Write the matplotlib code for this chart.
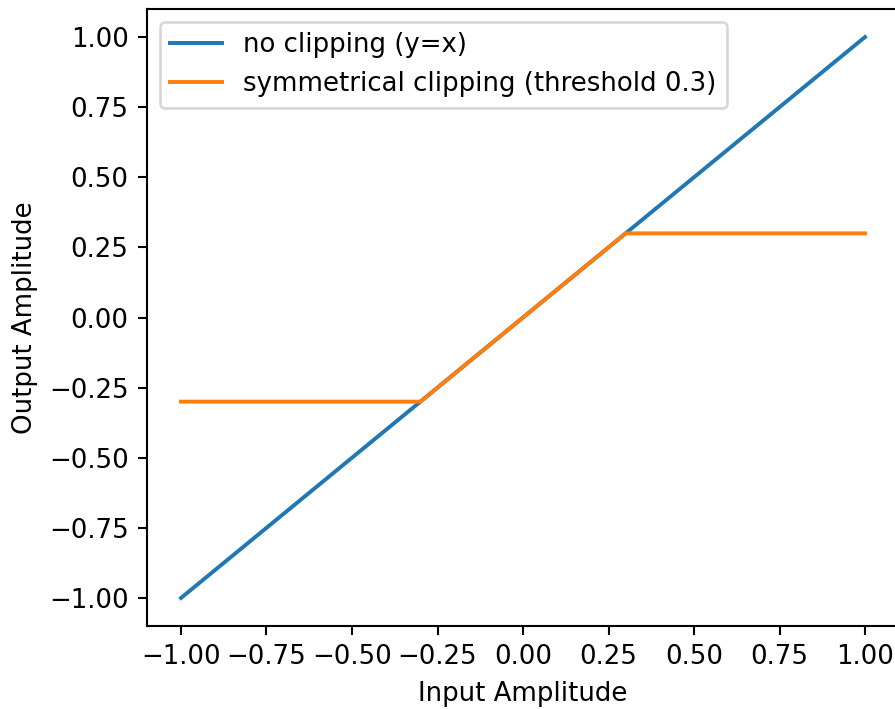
import numpy as np
import matplotlib
matplotlib.use("Agg")
import matplotlib.pyplot as plt

x = np.array([-1.0, -0.3, 0.3, 1.0])
y_noclip = np.array([-1.0, -0.3, 0.3, 1.0])
threshold = 0.3
y_clip = np.array([-0.3, -0.3, 0.3, 0.3])

W, H = 895, 709
DPI = 187.5
fig = plt.figure(figsize=(W / DPI, H / DPI), dpi=DPI)
ax = fig.add_axes([146.8 / W, (H - 626) / H, (899.2 - 146.8) / W, (626 - 9) / H])
ax.plot(x, y_noclip, label="no clipping (y=x)")
ax.plot(x, y_clip, label=f"symmetrical clipping (threshold {threshold})")
ax.set_xlabel("Input Amplitude")
ax.set_ylabel("Output Amplitude")
ax.set_xticks(np.arange(-1.0, 1.01, 0.25))
ax.set_yticks(np.arange(-1.0, 1.01, 0.25))
ax.legend(loc="upper left")
fig.savefig("out.png", dpi=DPI)
